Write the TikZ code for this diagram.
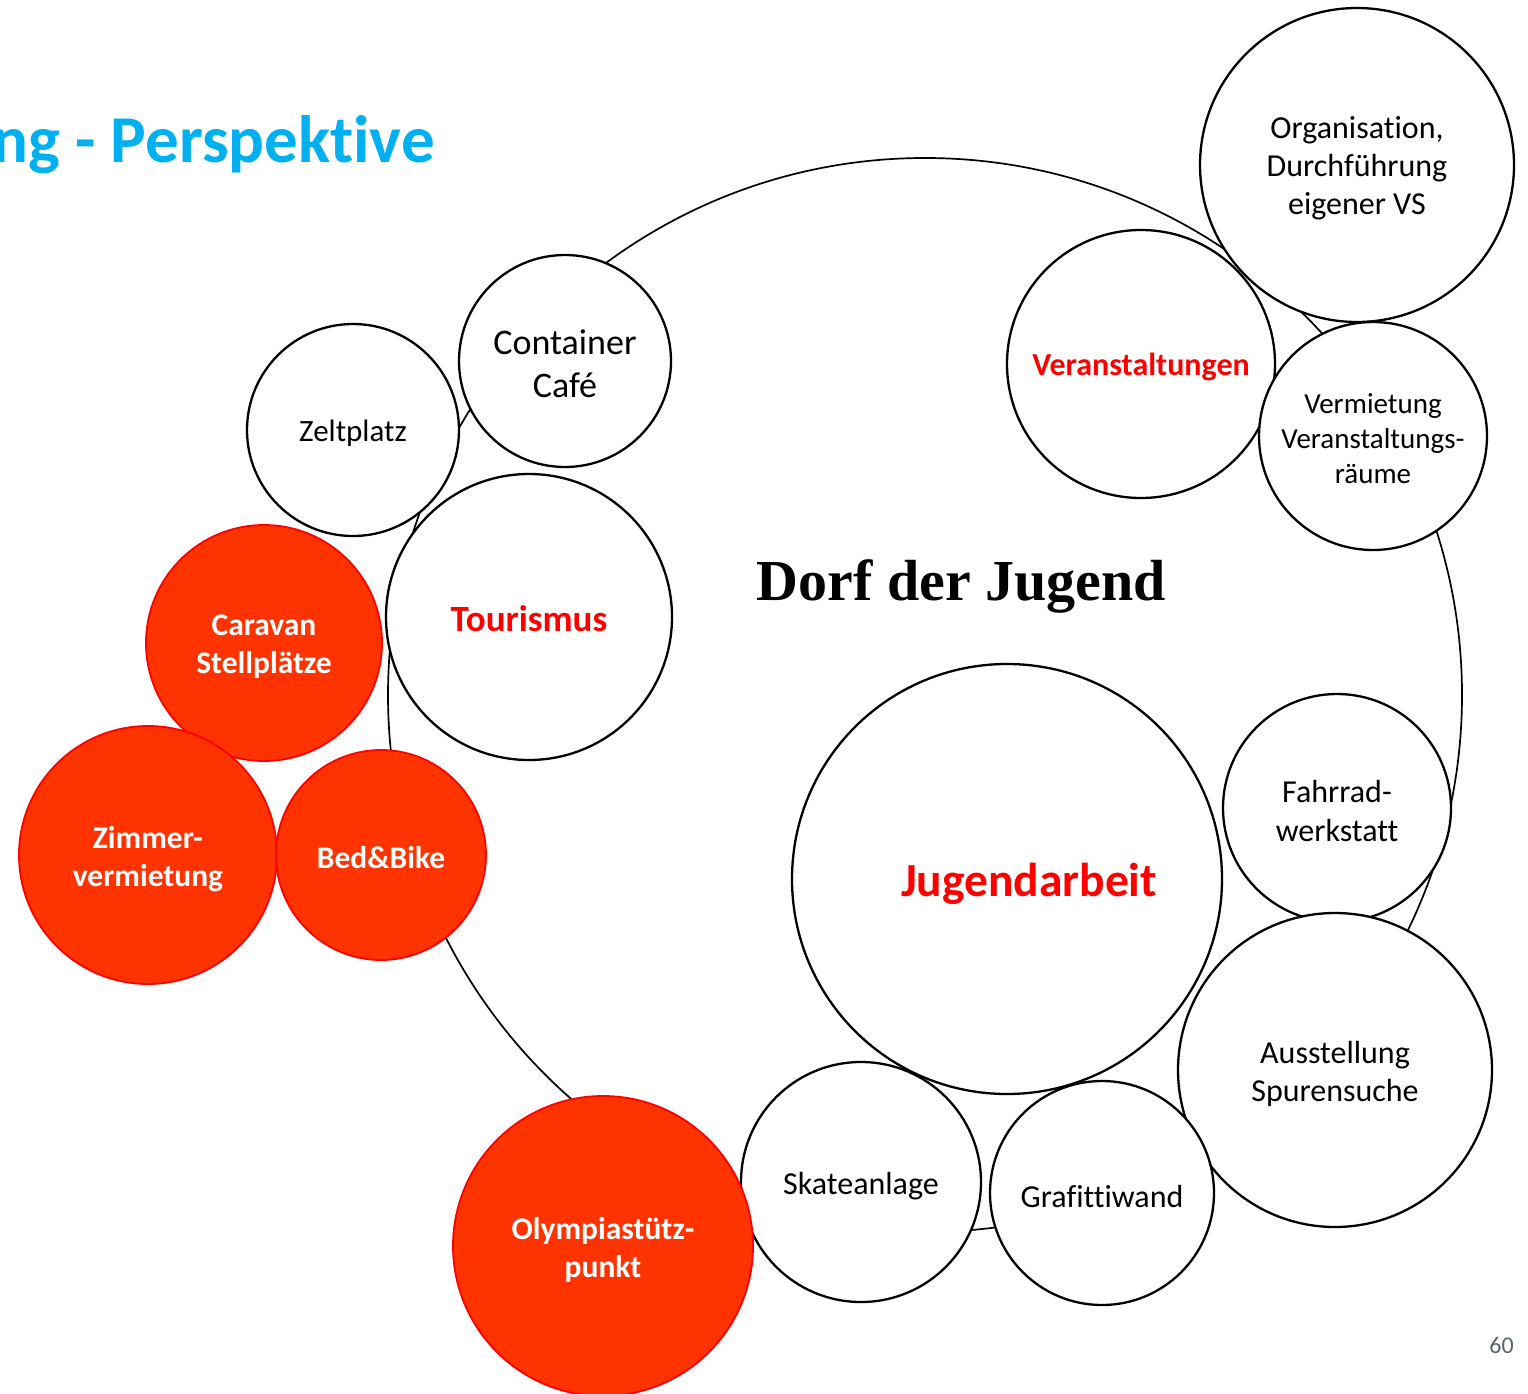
\documentclass[tikz,border=0pt]{standalone}
\usepackage{fontspec}
\setmainfont{Carlito}[RawFeature={-liga;-clig;-dlig;-calt;-hlig}]
\newfontfamily\headserif{Liberation Serif}
\definecolor{titlecyan}{HTML}{00B0F0}
\definecolor{hired}{HTML}{FF0000}
\definecolor{redfill}{HTML}{FF3300}
\definecolor{redline}{HTML}{FF0000}
\definecolor{pgnum}{HTML}{596466}
\begin{document}
\begin{tikzpicture}[x=1pt,y=-1pt,
  bub/.style={circle, draw=black, line width=2.3pt, fill=white, inner sep=0pt,
    minimum size=2*#1pt},
  redbub/.style={circle, draw=redline, line width=1.8pt, fill=redfill, inner sep=0pt,
    minimum size=2*#1pt},
  txt/.style 2 args={inner sep=0pt, align=center, font=\fontsize{#1}{#2}\selectfont},
  hl/.style 2 args={inner sep=0pt, align=center, text=hired, font=\bfseries\fontsize{#1}{#2}\selectfont},
  wt/.style={inner sep=0pt, align=center, text=white, font=\bfseries\fontsize{31.5}{38}\selectfont}
]
\useasboundingbox (0,0) rectangle (1528,1394);
\clip (0,0) rectangle (1528,1394);

% title, running off the left edge
\node[anchor=base east, inner sep=0pt, text=titlecyan,
  font=\bfseries\fontsize{67}{80}\selectfont] (title) at (435,162) {ng - Perspektive};

% the village ring behind everything
\node[circle, draw=black, line width=1.7pt, inner sep=0pt, minimum size=1074pt] (village) at (925,695) {};
\node[anchor=base, inner sep=0pt, font=\headserif\bfseries\fontsize{58}{70}\selectfont]
  (villagename) at (961.5,600) {Dorf der Jugend};

% white bubbles
\node[bub=157] (orga) at (1357,165) {};
\node[bub=134] (events) at (1141,364) {};
\node[bub=114] (rooms) at (1373,436) {};
\node[bub=106] (cafe) at (565,361) {};
\node[bub=106] (tent) at (353,430) {};
\node[bub=143] (tourism) at (529,617) {};
\node[bub=215] (youth) at (1007,879) {};
\node[bub=114] (bike) at (1337,808) {};
\node[bub=157] (expo) at (1335,1070) {};
\node[bub=120] (skate) at (861,1182) {};
\node[bub=112] (graffiti) at (1102,1193) {};

% red bubbles
\node[redbub=118] (caravan) at (264,643) {};
\node[redbub=129] (rooms2) at (148,855) {};
\node[redbub=105] (bedbike) at (381,855) {};
\node[redbub=150] (olympia) at (603,1246) {};

% bubble texts
\node[txt={32}{38}] (orga-t) at (1357,168) {Organisation,\\Durchführung\\eigener VS};
\node[hl={32}{38}] (events-t) at (1141,367) {Veranstaltungen};
\node[txt={29}{35}] (rooms-t) at (1373,439) {Vermietung\\Veranstaltungs-\\räume};
\node[txt={36}{43}] (cafe-t) at (565,364) {Container\\Café};
\node[txt={31}{37}] (tent-t) at (353,433) {Zeltplatz};
\node[hl={37}{44}] (tourism-t) at (529,619) {Tourismus};
\node[hl={47.5}{57}] (youth-t) at (1029,884) {Jugendarbeit};
\node[txt={32}{39}] (bike-t) at (1337,811) {Fahrrad-\\werkstatt};
\node[txt={32}{38}] (expo-t) at (1335,1074) {Ausstellung\\Spurensuche};
\node[txt={32}{38}] (skate-t) at (861,1186) {Skateanlage};
\node[txt={32}{38}] (graffiti-t) at (1102,1196) {Grafittiwand};
\node[wt] (caravan-t) at (264,647) {Caravan\\Stellplätze};
\node[wt] (rooms2-t) at (148,859) {Zimmer-\\vermietung};
\node[wt] (bedbike-t) at (381,858) {Bed\&Bike};
\node[wt] (olympia-t) at (603,1250) {Olympiastütz-\\punkt};

% page number
\node[anchor=base east, inner sep=0pt, text=pgnum, font=\fontsize{24}{28}\selectfont]
  (page) at (1514,1353) {60};
\end{tikzpicture}
\end{document}
